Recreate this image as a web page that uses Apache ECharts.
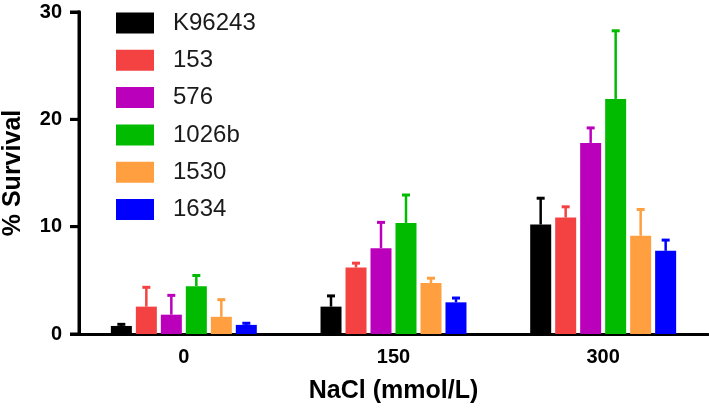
<!DOCTYPE html>
<html>
<head>
<meta charset="utf-8">
<script src="https://cdn.jsdelivr.net/npm/echarts@6/dist/echarts.min.js"></script>
<style>html,body{margin:0;padding:0;background:#fff;}#c{width:709px;height:409px;}</style>
</head>
<body>
<div id="c"></div>
<script>
var categories = ['0', '150', '300'];
var strains = ['K96243', '153', '576', '1026b', '1530', '1634'];
var colors = ['#000000', '#f44242', '#bb00bb', '#00bb00', '#ff9f40', '#0000ff'];
var meanK96243 = [0.75, 2.55, 10.2];
var mean153 = [2.55, 6.2, 10.85];
var mean576 = [1.8, 8.0, 17.8];
var mean1026b = [4.45, 10.35, 21.9];
var mean1530 = [1.6, 4.75, 9.15];
var mean1634 = [0.85, 2.95, 7.75];
var errK96243 = [0.15, 1.0, 2.45];
var err153 = [1.8, 0.4, 1.0];
var err576 = [1.8, 2.4, 1.4];
var err1026b = [1.0, 2.6, 6.35];
var err1530 = [1.6, 0.45, 2.45];
var err1634 = [0.15, 0.4, 1.0];
var yTicks = [0, 10, 20, 30];

var means = [meanK96243, mean153, mean576, mean1026b, mean1530, mean1634];
var errs = [errK96243, err153, err576, err1026b, err1530, err1634];

var GRID_LEFT = 79;
var BAR_W = 21, GAP = 4;
var series = [];
strains.forEach(function (name, i) {
  series.push({
    name: name, type: 'bar', data: means[i],
    barWidth: BAR_W, barGap: (GAP / BAR_W * 100).toFixed(1) + '%',
    itemStyle: { color: colors[i] }, z: 2
  });
});
strains.forEach(function (name, i) {
  var offset = (i - 2.5) * (BAR_W + GAP);
  series.push({
    name: name + '_err', type: 'custom', z: 3,
    data: means[i].map(function (m, k) { return [k, m, m + errs[i][k]]; }),
    renderItem: function (params, api) {
      var base = api.coord([api.value(0), api.value(1)]);
      var top = api.coord([api.value(0), api.value(2)]);
      var x = base[0] + offset;
      var st = { stroke: colors[i], lineWidth: 2.5 };
      return { type: 'group', children: [
        { type: 'line', shape: { x1: x, y1: base[1], x2: x, y2: top[1] }, style: st },
        { type: 'line', shape: { x1: x - 4, y1: top[1], x2: x + 4, y2: top[1] }, style: { stroke: colors[i], lineWidth: 3 } }
      ]};
    }
  });
});

var chart = echarts.init(document.getElementById('c'), null, { renderer: 'canvas' });
chart.setOption({
  animation: false,
  textStyle: { fontFamily: 'Liberation Sans, Arial, sans-serif' },
  grid: { left: GRID_LEFT, top: 12, right: 1, bottom: 75, containLabel: false, outerBoundsMode: 'none' },
  legend: {
    data: strains, orient: 'vertical', left: 116, top: 11, padding: 0,
    itemWidth: 38, itemHeight: 21, itemGap: 13.3,
    icon: 'rect',
    textStyle: { fontSize: 24, color: '#1a1a1a', padding: [0, 0, 0, 14], lineHeight: 24 }
  },
  xAxis: {
    type: 'category', data: categories,
    name: 'NaCl (mmol/L)', nameLocation: 'middle', nameGap: 45,
    nameTextStyle: { fontSize: 25, fontWeight: 'bold', color: '#000' },
    axisLine: { onZero: false, lineStyle: { color: '#000', width: 3 } },
    axisTick: { alignWithLabel: true, length: 9, lineStyle: { width: 3, color: '#000' } },
    axisLabel: { fontSize: 20, fontWeight: 'bold', color: '#000', margin: 13 }
  },
  yAxis: {
    type: 'value', position: 'left', z: 10, min: yTicks[0], max: yTicks[yTicks.length - 1], interval: 10,
    name: '% Survival', nameLocation: 'middle', nameGap: 53, nameRotate: 90,
    nameTextStyle: { fontSize: 25, fontWeight: 'bold', color: '#000' },
    splitLine: { show: false },
    axisLine: { show: true, onZero: false, lineStyle: { color: '#000', width: 3, type: 'solid' } },
    axisTick: { show: true, inside: false, length: 9, lineStyle: { width: 3, color: '#000' } },
    axisLabel: { fontSize: 20, fontWeight: 'bold', color: '#000', margin: 17 }
  },
  series: series
});

// Reinforce the y axis line and ticks using the library's own scale
var yTop = chart.convertToPixel({ yAxisIndex: 0 }, yTicks[yTicks.length - 1]);
var yBot = chart.convertToPixel({ yAxisIndex: 0 }, yTicks[0]);
var els = [{ type: 'line', z: 100, shape: { x1: GRID_LEFT, y1: yTop - 1.5, x2: GRID_LEFT, y2: yBot + 1.5 }, style: { stroke: '#000', lineWidth: 3 } }];
yTicks.forEach(function (t) {
  var py = chart.convertToPixel({ yAxisIndex: 0 }, t);
  els.push({ type: 'line', z: 100, shape: { x1: GRID_LEFT - 9, y1: py, x2: GRID_LEFT, y2: py }, style: { stroke: '#000', lineWidth: 3 } });
});
chart.setOption({ graphic: els });
</script>
</body>
</html>
